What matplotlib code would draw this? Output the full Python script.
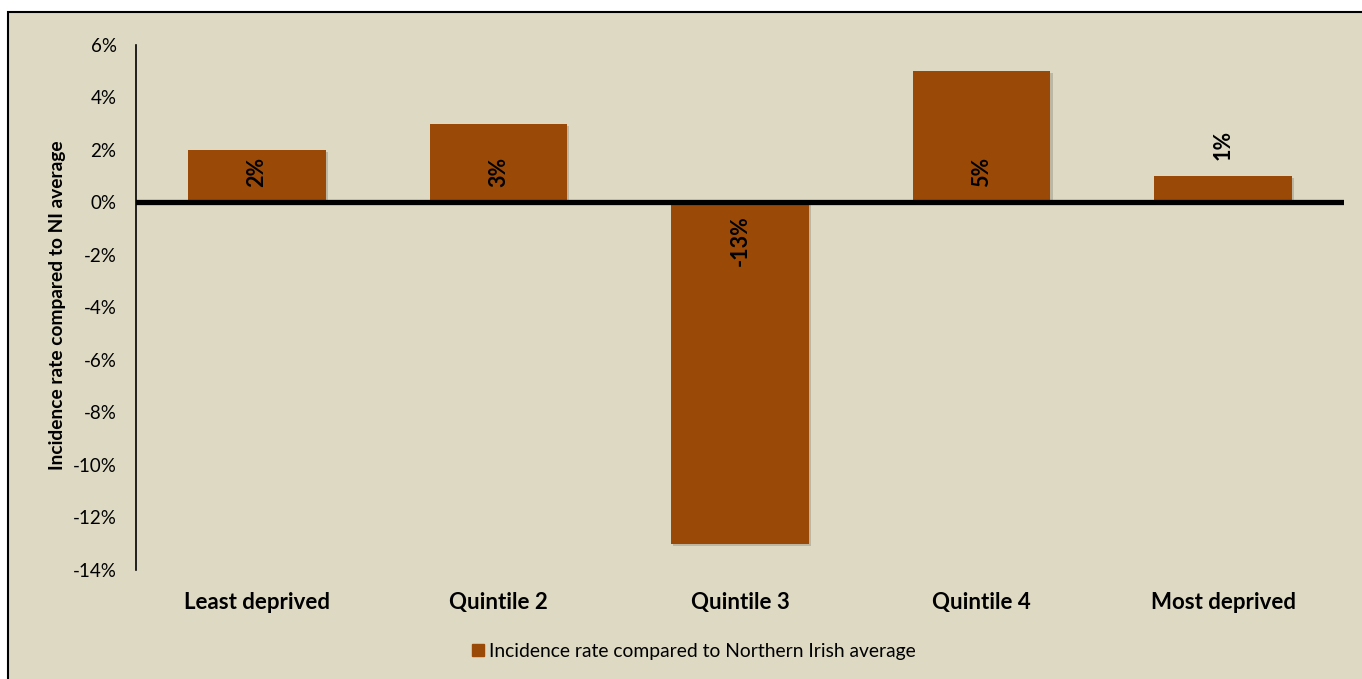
import matplotlib
matplotlib.use("Agg")
import matplotlib.pyplot as plt
from matplotlib.patches import Rectangle, Patch
import matplotlib.patheffects as pe

categories = ["Least deprived", "Quintile 2", "Quintile 3", "Quintile 4", "Most deprived"]
values = [2, 3, -13, 5, 1]
labels = ["2%", "3%", "-13%", "5%", "1%"]
yticks = [6, 4, 2, 0, -2, -4, -6, -8, -10, -12, -14]
series_name = "Incidence rate compared to Northern Irish average"
ylabel = "Incidence rate compared to NI average"

BG = "#DDD9C3"
BAR = "#9A4A06"
FONT = ["Lato", "DejaVu Sans"]
plt.rcParams["font.family"] = FONT

W, H = 1362, 679
fig = plt.figure(figsize=(W / 100, H / 100), dpi=100)
fig.patch.set_facecolor("white")

# chart frame (cropped at right/bottom)
bgax = fig.add_axes([0, 0, 1, 1], zorder=-5)
bgax.set_xlim(0, W)
bgax.set_ylim(H, 0)
bgax.axis("off")
bgax.add_patch(Rectangle((8, 12), W + 20, H + 20, facecolor=BG, edgecolor="black", linewidth=1.5))

ax = fig.add_axes([136 / W, (H - 570) / H, (1344 - 136) / W, (570 - 45) / H], zorder=1)
ax.set_facecolor("none")
ax.set_xlim(-0.5, 4.5)
ax.set_ylim(-14, 6)

x = list(range(len(categories)))
bars = ax.bar(x, values, width=0.57, color=BAR, zorder=2,
              path_effects=[pe.SimplePatchShadow(offset=(1.5, -1.5), shadow_rgbFace="#7f7a66", alpha=0.35),
                            pe.Normal()])

ax.axhline(0, color="black", linewidth=3.8, zorder=3)

for s in ["top", "right", "bottom"]:
    ax.spines[s].set_visible(False)
ax.spines["left"].set_linewidth(1.2)

ax.set_yticks(yticks)
ax.set_yticklabels([f"{t}%" for t in yticks], fontsize=13.5)
ax.tick_params(axis="y", length=0, pad=14)
ax.set_xticks(x)
ax.set_xticklabels(categories, fontsize=16, fontweight="bold")
ax.tick_params(axis="x", length=0, pad=16)

fig.text(58 / W, 1 - 305 / H, ylabel, rotation=90, ha="center", va="center",
         fontsize=13.8, fontweight="bold")

for xi, v, lab in zip(x, values, labels):
    if abs(v) >= 2:
        if v > 0:
            ax.annotate(lab, (xi, 0), xytext=(0, 11), textcoords="offset points",
                        rotation=90, ha="center", va="bottom", fontsize=15.5, fontweight="bold", zorder=4)
        else:
            ax.annotate(lab, (xi, 0), xytext=(0, -9), textcoords="offset points",
                        rotation=90, ha="center", va="top", fontsize=15.5, fontweight="bold", zorder=4)
    else:
        ax.annotate(lab, (xi, v), xytext=(0, 12), textcoords="offset points",
                    rotation=90, ha="center", va="bottom", fontsize=15.5, fontweight="bold", zorder=4)

handle = Patch(facecolor=BAR, edgecolor=BAR)
leg = fig.legend([handle], [series_name], loc="center", bbox_to_anchor=(694 / W, 1 - 651 / H),
                 frameon=False, fontsize=13.9, handlelength=0.6, handleheight=0.6, handletextpad=0.3)

fig.savefig("out.png", dpi=100, facecolor=fig.get_facecolor())
